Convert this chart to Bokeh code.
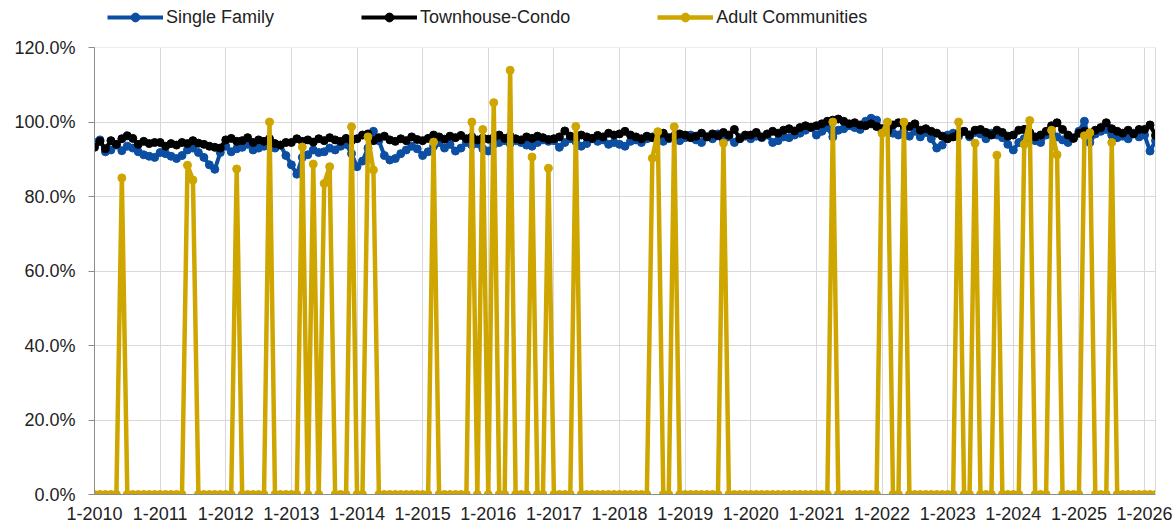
from bokeh.plotting import figure
from bokeh.models import (Range1d, FixedTicker, PrintfTickFormatter, Legend,
                          LegendItem, BoxAnnotation, LinearAxis)
from bokeh.embed import file_html
from bokeh.resources import INLINE

START_YEAR = 2010
year_ticks = list(range(2010, 2027))
y_ticks = [0, 20, 40, 60, 80, 100, 120]
series_names = ["Single Family", "Townhouse-Condo", "Adult Communities"]

# monthly values (%), Jan 2010 .. Mar 2026
single_family = [
    94.5, 95.2, 92.0, 92.5, 93.8, 92.3, 93.5, 93.0, 92.0, 91.2, 90.8, 90.5,
    91.8, 91.5, 90.8, 90.2, 91.0, 92.5, 93.0, 91.8, 90.5, 88.5, 87.3, 91.8,
    93.5, 92.0, 92.8, 93.2, 94.0, 92.5, 93.0, 93.5, 94.5, 93.0, 93.8, 91.0,
    88.5, 86.0, 90.5, 91.2, 92.5, 91.8, 92.0, 93.0, 92.5, 93.5, 94.0, 91.5,
    88.0, 89.5, 93.0, 97.5, 95.0, 91.0, 89.8, 90.2, 91.5, 92.5, 93.5, 92.8,
    91.0, 92.0, 93.5, 94.5, 93.0, 94.0, 92.2, 93.0, 94.5, 93.8, 94.2, 92.8,
    92.2, 94.0, 94.5, 95.0, 94.2, 95.0, 94.5, 93.8, 93.5, 94.5, 95.2, 94.8,
    95.0, 93.2, 94.5, 95.5, 94.8, 93.5, 94.2, 95.5, 94.8, 95.2, 94.0, 94.5,
    94.0, 93.5, 94.8, 95.2, 94.5, 95.5, 96.0, 95.2, 94.8, 95.5, 96.2, 95.0,
    95.8, 96.5, 95.2, 94.5, 96.0, 95.5, 96.8, 95.2, 96.0, 94.5, 95.8, 96.2,
    95.5, 96.2, 95.8, 96.5, 94.5, 95.0, 96.0, 95.8, 96.5, 97.0, 97.8, 98.5,
    96.5, 97.5, 98.5, 96.0, 97.8, 98.2, 99.0, 98.5, 98.0, 100.2, 101.0, 100.5,
    97.5, 98.5, 97.0, 96.5, 97.8, 96.2, 97.5, 96.0, 97.2, 95.5, 93.0, 93.8,
    96.5, 97.0, 96.2, 97.5, 96.0, 97.2, 96.8, 95.5, 97.0, 96.5, 95.8, 94.0,
    92.5, 94.5, 95.5, 96.8, 95.0, 94.5, 96.5, 97.2, 96.0, 95.2, 94.5, 95.8,
    97.5, 100.2, 94.5, 96.8, 97.5, 98.0, 96.5, 95.8, 96.2, 95.5, 97.0, 96.0,
    96.5, 92.2, 95.0,
]

townhouse_condo = [
    93.2, 94.8, 92.8, 95.0, 94.0, 95.5, 96.3, 95.6, 94.0, 94.8, 94.2, 94.5,
    94.5, 93.5, 94.2, 93.8, 94.5, 94.2, 95.0, 94.3, 94.0, 93.5, 93.2, 93.0,
    95.2, 95.6, 94.8, 95.0, 95.8, 94.5, 95.2, 94.8, 95.5, 94.2, 93.8, 94.5,
    94.5, 95.5, 94.8, 95.2, 94.6, 95.5, 95.0, 95.8, 95.2, 94.8, 95.6, 95.0,
    95.5, 96.5, 96.8, 95.0, 95.8, 96.2, 95.2, 94.8, 95.5, 95.0, 96.0, 95.3,
    95.0, 95.6, 96.5, 96.0, 95.4, 96.2, 95.8, 96.4, 95.5, 96.0, 95.2, 95.7,
    95.4, 95.8, 96.5, 95.6, 96.2, 95.5, 95.2, 96.0, 95.6, 96.2, 95.8, 95.3,
    95.5, 96.0, 97.6, 96.2, 95.8, 96.5, 96.0, 95.6, 96.4, 96.0, 97.0, 96.5,
    96.8, 97.5, 96.5, 96.0, 95.5, 96.2, 95.8, 96.5, 97.0, 95.8, 96.2, 96.8,
    96.5, 95.8, 96.2, 97.0, 96.0, 96.8, 96.3, 97.2, 96.5, 98.0, 95.5, 96.5,
    96.5, 97.2, 96.0, 96.8, 97.5, 97.0, 97.8, 98.2, 97.6, 98.5, 99.0, 98.6,
    99.0, 99.5, 100.2, 100.5, 100.8, 100.2, 99.5, 99.8, 99.2, 99.0, 99.5, 98.8,
    98.2, 97.5, 99.2, 99.8, 99.0, 98.8, 99.5, 97.8, 98.2, 97.5, 97.0, 96.2,
    95.5, 96.0, 96.8, 97.5, 96.5, 97.8, 98.0, 97.2, 96.5, 97.8, 97.2, 96.2,
    96.5, 97.8, 98.0, 97.2, 96.0, 96.5, 97.5, 99.0, 99.8, 98.0, 96.5, 95.6,
    97.0, 97.5, 96.8, 97.8, 98.5, 99.8, 98.2, 97.5, 97.0, 97.8, 96.8, 98.0,
    98.0, 99.2, 96.4,
]

adult_communities = [
    0, 0, 0, 0, 0, 85.0, 0, 0, 0, 0, 0, 0,
    0, 0, 0, 0, 0, 88.4, 84.4, 0, 0, 0, 0, 0,
    0, 0, 87.4, 0, 0, 0, 0, 0, 100.0, 0, 0, 0,
    0, 0, 93.3, 0, 88.7, 0, 83.5, 88.0, 0, 0, 0, 98.7,
    0, 0, 96.0, 87.1, 0, 0, 0, 0, 0, 0, 0, 0,
    0, 0, 94.6, 0, 0, 0, 0, 0, 0, 100.0, 0, 98.0,
    0, 105.2, 0, 0, 113.9, 0, 0, 0, 90.6, 0, 0, 87.6,
    0, 0, 0, 0, 98.8, 0, 0, 0, 0, 0, 0, 0,
    0, 0, 0, 0, 0, 0, 90.3, 97.4, 0, 0, 98.7, 0,
    0, 0, 0, 0, 0, 0, 0, 94.3, 0, 0, 0, 0,
    0, 0, 0, 0, 0, 0, 0, 0, 0, 0, 0, 0,
    0, 0, 0, 100.0, 0, 0, 0, 0, 0, 0, 0, 0,
    97.0, 100.0, 0, 0, 100.0, 0, 0, 0, 0, 0, 0, 0,
    0, 0, 100.0, 0, 0, 94.3, 0, 0, 0, 91.1, 0, 0,
    0, 0, 94.0, 100.4, 0, 0, 0, 97.8, 91.2, 0, 0, 0,
    0, 96.3, 97.1, 0, 0, 0, 94.5, 0, 0, 0, 0, 0,
    0, 0, 0,
]

n = len(single_family)
months = [START_YEAR + i / 12 for i in range(n)]

FONT = "Liberation Sans"
TEXT = "#222222"
GRID = "#d9d9d9"
AXIS = "#8c8c8c"
BLUE = "#0B4EA2"
BLACK = "#000000"
GOLD = "#CFA600"

# frame spans the full height; the band above 120% holds the legend
Y_MAX = y_ticks[-1]
Y_TOP = Y_MAX * 494 / 447

p = figure(width=1174, height=528, output_backend="svg", toolbar_location=None,
           x_range=Range1d(months[0], months[-1]), y_range=Range1d(0, Y_TOP),
           min_border_left=94, min_border_right=19, min_border_top=0,
           min_border_bottom=34)
p.background_fill_color = "white"
p.border_fill_color = "white"
p.outline_line_color = None

# grids
p.xgrid.ticker = FixedTicker(ticks=year_ticks)
p.ygrid.ticker = FixedTicker(ticks=y_ticks)
for g in (p.xgrid, p.ygrid):
    g.grid_line_color = GRID
    g.grid_line_width = 1

# hide the vertical grid lines above the top tick
p.add_layout(BoxAnnotation(bottom=Y_MAX, fill_color="white", fill_alpha=1,
                           line_alpha=0, level="underlay"))

# y axis
p.yaxis.ticker = FixedTicker(ticks=y_ticks)
p.yaxis.bounds = (0, Y_MAX)
p.yaxis.formatter = PrintfTickFormatter(format="%.1f%%")
p.yaxis.major_tick_out = 6
p.yaxis.major_tick_in = 0
p.yaxis.minor_tick_out = 0
p.yaxis.minor_tick_in = 0
p.yaxis.major_label_standoff = 13
p.yaxis.axis_line_color = AXIS
p.yaxis.major_tick_line_color = AXIS

# right border of the plot area
right = LinearAxis(ticker=FixedTicker(ticks=[]), bounds=(0, Y_MAX),
                   axis_line_color=GRID, major_tick_out=0, major_tick_in=0,
                   minor_tick_out=0, minor_tick_in=0)
p.add_layout(right, "right")

# x axis
p.xaxis.ticker = FixedTicker(ticks=year_ticks)
p.xaxis.formatter = PrintfTickFormatter(format="1-%d")
p.xaxis.major_tick_out = 0
p.xaxis.major_tick_in = 0
p.xaxis.minor_tick_out = 0
p.xaxis.minor_tick_in = 0
p.xaxis.major_label_standoff = 12
p.xaxis.axis_line_color = AXIS

for ax in (p.xaxis, p.yaxis):
    ax.major_label_text_font = FONT
    ax.major_label_text_font_size = "18px"
    ax.major_label_text_color = TEXT

items = []
for name, vals, col, lw in ((series_names[0], single_family, BLUE, 4),
                            (series_names[1], townhouse_condo, BLACK, 4),
                            (series_names[2], adult_communities, GOLD, 4.5)):
    ln = p.line(months, vals, line_color=col, line_width=lw, line_join="round")
    sc = p.scatter(months, vals, size=8, fill_color=col, line_color=col)
    items.append(LegendItem(label=name, renderers=[ln, sc]))

legend = Legend(items=items, orientation="horizontal", location=(13, 466),
                glyph_width=56, glyph_height=22, label_height=22,
                label_standoff=3, spacing=87, padding=0, margin=0,
                border_line_alpha=0, background_fill_alpha=0,
                label_text_font=FONT, label_text_font_size="18px",
                label_text_color=TEXT)
p.add_layout(legend)

open("out.html", "w").write(file_html(p, INLINE))
